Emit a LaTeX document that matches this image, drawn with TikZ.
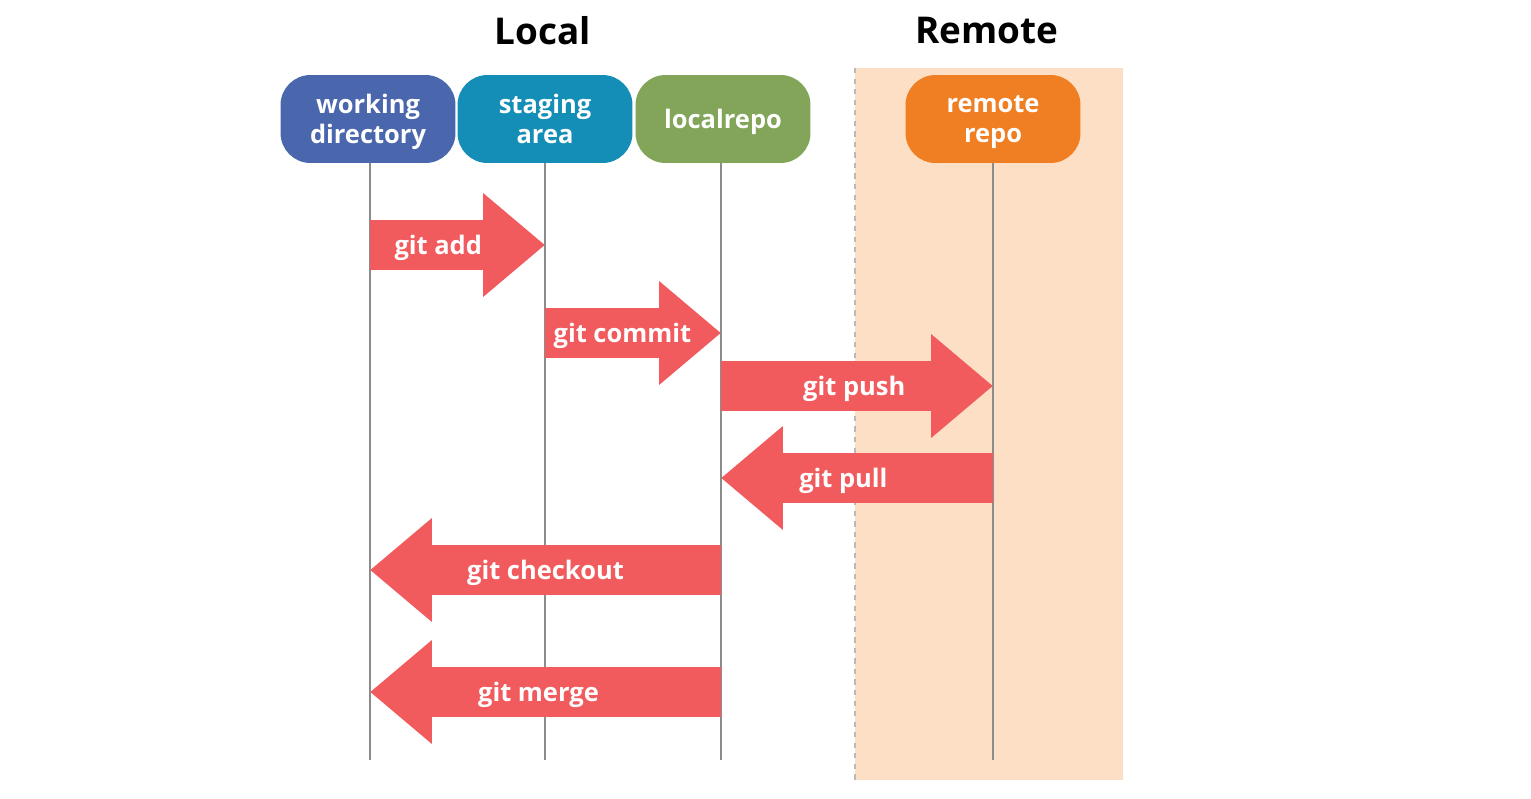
\documentclass[tikz,border=0pt]{standalone}
\usepackage{fontspec}
\setmainfont{Open Sans}
\usetikzlibrary{arrows.meta}
\definecolor{wdblue}{HTML}{4A66AC}
\definecolor{stteal}{HTML}{148EB6}
\definecolor{lrgreen}{HTML}{82A55A}
\definecolor{rrorange}{HTML}{F07E22}
\definecolor{gitred}{HTML}{F15B5E}
\definecolor{peach}{HTML}{FCDFC4}
\definecolor{linegray}{HTML}{8C8C8C}
\tikzset{
  box/.style={rounded corners=0.6cm, minimum width=3.5cm, minimum height=1.76cm,
    text=white, align=center, text depth=0pt, font=\fontsize{14.5}{17}\selectfont\bfseries},
  title/.style={font=\fontsize{21}{25}\selectfont\bfseries},
  lifeline/.style={draw=linegray, line width=1.1pt},
  cmd/.style={draw=gitred, line width=1cm, -{Triangle[length=1.24cm,width=2cm]}},
  cmdlabel/.style={text=white, text depth=0pt, font=\fontsize{14.5}{17}\selectfont\bfseries}
}
\begin{document}
\begin{tikzpicture}[x=0.02cm,y=-0.02cm]
\useasboundingbox (0,0) rectangle (1531,798);

% remote area
\fill[peach] (855,68) rectangle (1123,780);
\draw[linegray!60, dashed, line width=0.6pt] (855,68) -- (855,780);

\node[title] (local) at (543,31) {Local};
\node[title] (remote) at (987,31) {Remote};

\node[box, fill=wdblue] (wd) at (368,119) {working\\directory};
\node[box, fill=stteal] (sa) at (545,119) {staging\\area};
\node[box, fill=lrgreen] (lr) at (723,119) {localrepo};
\node[box, fill=rrorange] (rr) at (993,119) {remote\\repo};

\coordinate (wdend) at (370,760);
\coordinate (saend) at (545,760);
\coordinate (lrend) at (721,760);
\coordinate (rrend) at (993,760);

\draw[lifeline] (wd.south -| wdend) -- (wdend);
\draw[lifeline] (sa.south -| saend) -- (saend);
\draw[lifeline] (lr.south -| lrend) -- (lrend);
\draw[lifeline] (rr.south -| rrend) -- (rrend);

% commands
\draw[cmd] (wdend |- 0,245) -- node[cmdlabel, pos=0.39] (add) {git add} (saend |- 0,245);
\draw[cmd] (saend |- 0,333) -- node[cmdlabel, pos=0.44] (commit) {git commit} (lrend |- 0,333);
\draw[cmd] (lrend |- 0,386) -- node[cmdlabel, pos=0.49] (push) {git push} (rrend |- 0,386);
\draw[cmd] (rrend |- 0,478) -- node[cmdlabel, pos=0.55] (pull) {git pull} (lrend |- 0,478);
\draw[cmd] (lrend |- 0,570) -- node[cmdlabel, pos=0.5] (checkout) {git checkout} (wdend |- 0,570);
\draw[cmd] (lrend |- 0,692) -- node[cmdlabel, pos=0.52] (merge) {git merge} (wdend |- 0,692);
\end{tikzpicture}
\end{document}
